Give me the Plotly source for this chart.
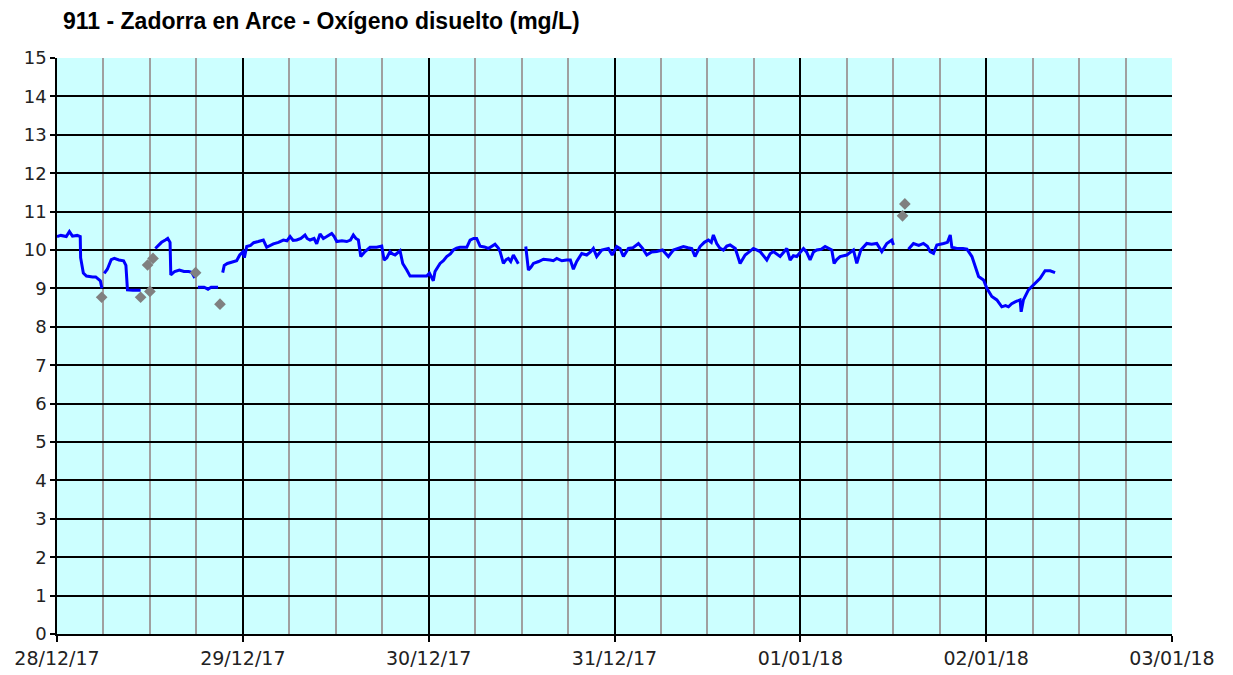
import datetime as dt
import plotly.graph_objects as go

BASE = dt.datetime(2017, 12, 28)

# Oxygen series: hours since 28/12/17 00:00 and value (None = gap)
line_hours = [
    0, 0.5, 1.2, 1.6, 2.0, 2.6, 3.0, 3.05, 3.4, 3.8, 4.6, 5.0, 5.3, 5.6, 5.8, 5.95,
    6.1, 6.5, 7.0, 7.4, 8.0, 8.6, 8.9, 9.1, 9.8, 10.4, 10.8, 11.5,
    12.7, 13.0, 13.5, 14.0, 14.3, 14.6, 14.7, 15.2, 15.8, 16.4, 17.0, 17.4, 17.6, 17.8, 18.0,
    18.2, 19.0, 19.5, 19.9, 20.4, 20.8, 21.1,
    21.4, 21.6, 22.0, 22.6, 23.2, 23.6, 24.0, 24.2, 24.5, 25.0, 25.4, 26.0, 26.65, 27.08,
    27.5, 27.94, 28.6, 29.23, 29.7, 30.1, 30.5, 30.96, 31.5, 32.03, 32.3, 32.68, 33.2,
    33.54, 33.97, 34.4, 34.84, 35.48, 35.8, 36.13, 36.8, 37.42, 37.9, 38.27, 38.6, 38.92,
    39.23, 39.5, 39.78, 40.43, 41.29, 41.94, 42.24, 42.6, 43.01, 43.3, 43.66, 44.3, 44.65,
    45.17, 45.6, 46.5, 47.2, 47.75, 48.1, 48.4, 48.6, 48.82, 49.47, 49.9, 50.33, 50.8,
    51.19, 51.6, 52.05, 52.92, 53.35, 53.8, 54.2, 54.64, 55.2, 55.71, 56.2, 56.57, 57.0,
    57.22, 57.65, 58.0, 58.29, 58.6, 58.94, 59.3, 59.58, 60.0,
    60.54, 60.88, 61.2, 61.53, 62.2, 62.82, 63.68, 64.1, 64.54, 65.2, 65.83, 66.3, 66.69,
    67.12, 67.77, 68.41, 68.9, 69.27, 69.7, 70.35, 71.21, 71.7, 72.29, 72.72, 73.15, 73.8,
    74.4, 75.09, 75.6, 76.17, 76.8, 77.46, 78.2, 78.96, 79.6, 80.3, 80.9, 81.5, 81.98,
    82.4, 83.05, 83.6, 84.13, 84.5, 84.77, 85.2, 85.6, 86.07, 86.5, 86.93, 87.6, 88.22,
    88.87, 89.4, 89.94, 90.8, 91.67, 92.1, 92.52, 93.39, 94.25, 94.68, 95.1, 95.54, 96.4,
    96.8, 97.26, 97.7, 98.13, 98.7, 99.2, 100.06, 100.36, 100.7, 101.13, 102.0, 102.86,
    103.29, 103.81, 104.58, 105.2, 105.87, 106.52, 107.17, 107.81, 108.03, 109.0,
    109.96, 110.61, 111.3, 111.9, 112.4, 112.76, 113.2, 113.63, 114.5, 115.0, 115.36,
    115.57, 116.22, 117.0, 117.51, 118.16, 118.59, 119.02, 119.66, 120.09, 120.73, 121.38,
    122.02, 122.5, 122.88, 123.3, 123.74, 124.38, 124.52, 124.81, 125.46, 126.1, 126.97,
    127.61, 128.26, 128.9,
]
line_values = [
    10.35, 10.38, 10.35, 10.48, 10.36, 10.38, 10.35, 9.8, 9.4, 9.32, 9.3, 9.3, 9.25, 9.2, 9.0, None,
    9.39, 9.5, 9.75, 9.78, 9.74, 9.72, 9.6, 8.96, 8.95, 8.95, 8.95, None,
    10.04, 10.1, 10.2, 10.26, 10.3, 10.2, 9.35, 9.44, 9.48, 9.44, 9.44, 9.42, 9.35, 9.27, None,
    9.03, 9.03, 8.98, 9.03, 9.03, 9.03, None,
    9.41, 9.6, 9.65, 9.68, 9.72, 9.87, 9.95, 9.8, 10.09, 10.12, 10.19, 10.22, 10.26, 10.07,
    10.12, 10.16, 10.2, 10.26, 10.24, 10.35, 10.25, 10.26, 10.3, 10.39, 10.3, 10.26, 10.3,
    10.16, 10.42, 10.3, 10.35, 10.43, 10.35, 10.22, 10.24, 10.22, 10.26, 10.39, 10.3, 10.26,
    9.83, 9.9, 9.96, 10.07, 10.07, 10.1, 9.74, 9.8, 9.96, 9.9, 9.87, 9.98, 9.65,
    9.48, 9.32, 9.32, 9.32, 9.32, 9.4, 9.26, 9.2, 9.44, 9.65, 9.72, 9.83, 9.9,
    10.0, 10.05, 10.07, 10.07, 10.26, 10.3, 10.3, 10.1, 10.08, 10.04, 10.1, 10.15, 10.05,
    9.96, 9.65, 9.75, 9.78, 9.7, 9.87, 9.75, 9.64, None,
    10.09, 9.48, 9.55, 9.65, 9.7, 9.76, 9.74, 9.72, 9.78, 9.72, 9.74, 9.74, 9.5,
    9.7, 9.91, 9.87, 9.95, 10.04, 9.83, 10.0, 10.04, 9.87, 10.09, 10.04, 9.83, 10.04,
    10.06, 10.17, 10.05, 9.87, 9.95, 9.96, 10.0, 9.83, 10.0, 10.05, 10.09, 10.06, 10.04,
    9.83, 10.09, 10.2, 10.26, 10.2, 10.39, 10.17, 10.05, 10.0, 10.1, 10.13, 10.04, 9.65,
    9.87, 9.95, 10.04, 9.96, 9.74, 9.9, 9.96, 9.83, 10.04, 9.74, 9.85, 9.83, 10.04,
    9.95, 9.74, 9.95, 10.0, 10.02, 10.09, 10.0, 9.65, 9.75, 9.83, 9.87, 10.0,
    9.65, 10.0, 10.17, 10.15, 10.17, 9.96, 10.17, 10.26, 10.13, None,
    10.02, 10.17, 10.12, 10.17, 10.1, 9.96, 9.91, 10.13, 10.17, 10.2, 10.39,
    10.07, 10.04, 10.04, 10.02, 9.83, 9.57, 9.31, 9.22, 9.0, 8.79, 8.7,
    8.52, 8.55, 8.52, 8.6, 8.65, 8.7, 8.39, 8.7, 8.96, 9.09, 9.26,
    9.46, 9.46, 9.41,
]

# Isolated sample points (grey diamonds)
point_hours = [5.77, 10.8, 12.0, 11.7, 12.4, 17.9, 21.05, 109.2, 109.5]
point_values = [8.77, 8.77, 8.92, 9.61, 9.78, 9.41, 8.59, 10.89, 11.2]

title_text = "911 - Zadorra en Arce - Oxígeno disuelto (mg/L)"
y_ticks = list(range(0, 16))


def to_time(hours):
    return [BASE + dt.timedelta(hours=h) for h in hours]


fig = go.Figure()
fig.add_trace(go.Scatter(
    x=to_time(line_hours), y=line_values, mode="lines",
    line=dict(color="#0000FF", width=3), connectgaps=False,
    showlegend=False, hoverinfo="x+y",
))
fig.add_trace(go.Scatter(
    x=to_time(point_hours), y=point_values, mode="markers",
    marker=dict(symbol="diamond", size=9, color="#808080"),
    showlegend=False,
))

fig.update_layout(
    width=1233, height=675,
    margin=dict(l=49, r=69, t=50, b=49, autoexpand=False),
    paper_bgcolor="white",
    plot_bgcolor="#CCFFFF",
    title=dict(
        text=title_text, x=55 / 1233, xanchor="left", xref="container",
        y=1 - 13 / 675, yanchor="middle", yref="container",
        font=dict(family="Liberation Sans", size=23, color="#000000", weight="bold"),
    ),
    font=dict(family="DejaVu Sans", color="#222222"),
)

fig.update_xaxes(
    type="date", automargin=False,
    range=[BASE, BASE + dt.timedelta(days=6)],
    dtick=86400000, tick0=BASE, tickformat="%d/%m/%y",
    showgrid=True, gridcolor="#000000", gridwidth=1.5,
    minor=dict(dtick=21600000, tick0=BASE, showgrid=True, gridcolor="#A0A0A0", gridwidth=2),
    ticks="outside", ticklen=6, tickcolor="#000000", tickwidth=1.5,
    showline=True, linecolor="#000000", linewidth=1.5,
    tickfont=dict(family="DejaVu Sans", size=19, color="#222222"),
    zeroline=False,
)
fig.update_yaxes(
    automargin=False,
    range=[0, 15], tickvals=y_ticks, ticktext=[str(v) for v in y_ticks],
    showgrid=True, gridcolor="#000000", gridwidth=1.5,
    ticks="outside", ticklen=5, tickcolor="#000000", tickwidth=1.5,
    showline=True, linecolor="#000000", linewidth=1.5,
    tickfont=dict(family="DejaVu Sans", size=18, color="#222222"),
    zeroline=False,
)

fig.write_html("out.html")
